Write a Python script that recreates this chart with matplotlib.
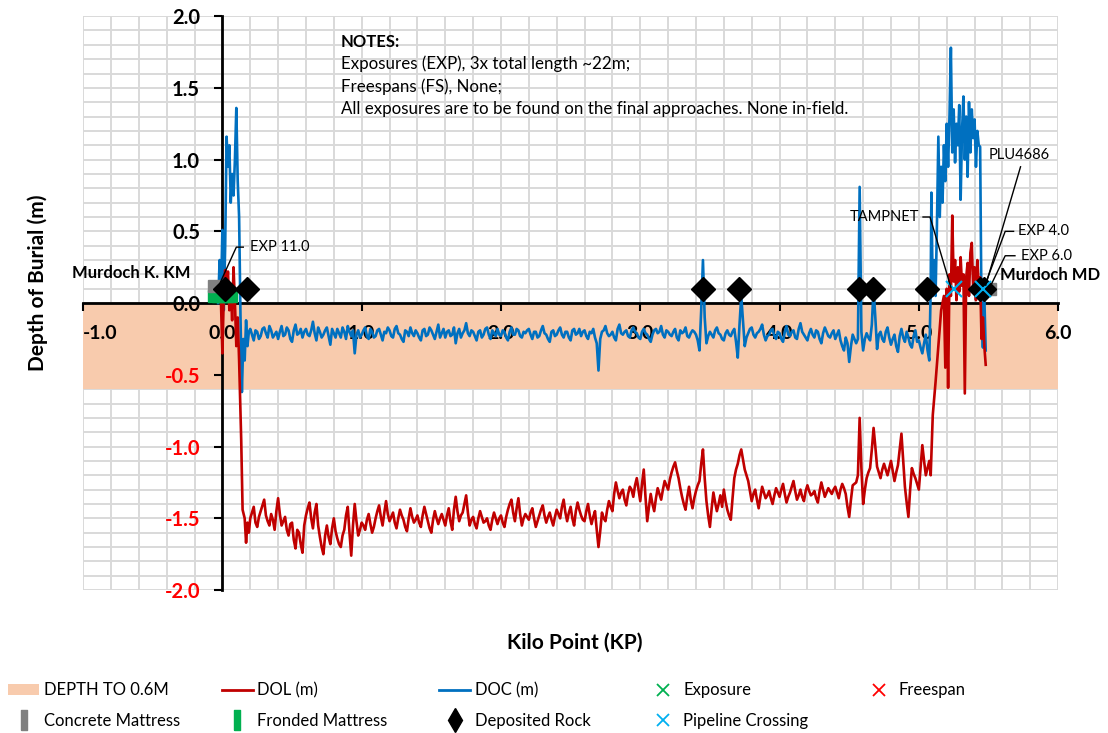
import numpy as np
import matplotlib
matplotlib.use('Agg')
import matplotlib.pyplot as plt
from matplotlib.ticker import MultipleLocator
from matplotlib.lines import Line2D
from matplotlib.patches import Patch

plt.rcParams['font.family'] = ['Lato', 'DejaVu Sans']

# DATA.

# DOC (m) - depth of cover, start of route (KP, value).
doc_start_kp = [-0.03, -0.02, -0.01, 0.0, 0.005, 0.01, 0.02, 0.03, 0.04, 0.05, 0.06, 0.07,
                0.08, 0.09, 0.10, 0.11, 0.12, 0.13, 0.14, 0.15, 0.16, 0.17, 0.18, 0.19]
doc_start = [0.0, 0.30, 0.05, 0.51, 0.10, -0.05, 0.40, 1.16, 0.95, 1.10, 0.70, 0.90,
             0.75, 1.00, 1.36, 0.85, 0.60, -0.10, -0.62, -0.25, -0.40, -0.12, -0.30, -0.20]

# DOC (m) main stretch, every 25 m from KP 0.200 to KP 5.075.
doc_main = [
    -0.18, -0.26, -0.20, -0.23, -0.17, -0.24, -0.19, -0.22,
    -0.25, -0.16, -0.22, -0.19, -0.27, -0.15, -0.21, -0.24,
    -0.18, -0.23, -0.13, -0.26, -0.20, -0.22, -0.17, -0.29,
    -0.21, -0.18, -0.24, -0.20, -0.16, -0.23, -0.35, -0.19,
    -0.22, -0.17, -0.25, -0.20, -0.23, -0.18, -0.26, -0.21,
    -0.19, -0.24, -0.16, -0.22, -0.27, -0.20, -0.17, -0.23,
    -0.21, -0.26, -0.18, -0.22, -0.19, -0.25, -0.15, -0.21,
    -0.24, -0.19, -0.22, -0.28, -0.18, -0.21, -0.14, -0.23,
    -0.20, -0.26, -0.19, -0.22, -0.17, -0.25, -0.21, -0.18,
    -0.23, -0.20, -0.26, -0.17, -0.22, -0.19, -0.24, -0.21,
    -0.18, -0.25, -0.20, -0.23, -0.16, -0.22, -0.27, -0.19,
    -0.22, -0.17, -0.24, -0.20, -0.26, -0.18, -0.21, -0.23,
    -0.19, -0.25, -0.21, -0.24, -0.47, -0.20, -0.16, -0.23,
    -0.20, -0.26, -0.15, -0.22, -0.19, -0.24, -0.17, -0.21,
    -0.25, -0.18, -0.22, -0.27, -0.19, -0.21, -0.16, -0.24,
    -0.20, -0.23, -0.18, -0.26, -0.21, -0.17, -0.24, -0.19,
    -0.22, -0.33, 0.30, -0.28, -0.20, -0.24, -0.17, -0.22,
    -0.26, -0.19, -0.23, -0.18, -0.38, 0.05, -0.30, -0.21,
    -0.17, -0.24, -0.20, -0.15, -0.26, -0.22, -0.18, -0.25,
    -0.21, -0.27, -0.16, -0.23, -0.19, -0.25, -0.14, -0.22,
    -0.26, -0.18, -0.24, -0.20, -0.28, -0.17, -0.23, -0.21,
    -0.25, -0.19, -0.30, -0.24, -0.41, -0.22, -0.28, 0.81,
    -0.33, -0.21, -0.26, 0.10, -0.32, -0.20, -0.27, -0.17,
    -0.29, -0.22, -0.34, -0.18, -0.27, -0.24, -0.31, -0.19,
    -0.26, -0.35, -0.22, -0.40]

# DOC (m) main stretch, readings half way between the ones above (KP 0.2125 to 5.0625).
doc_mid = [
    -0.22, -0.19, -0.25, -0.18, -0.21, -0.16, -0.24, -0.20,
    -0.20, -0.23, -0.17, -0.25, -0.19, -0.22, -0.18, -0.20,
    -0.22, -0.19, -0.21, -0.17, -0.24, -0.19, -0.23, -0.18,
    -0.24, -0.21, -0.17, -0.25, -0.20, -0.19, -0.22, -0.24,
    -0.19, -0.23, -0.18, -0.24, -0.19, -0.22, -0.20, -0.17,
    -0.23, -0.18, -0.21, -0.25, -0.19, -0.23, -0.21, -0.19,
    -0.24, -0.19, -0.23, -0.17, -0.22, -0.20, -0.24, -0.18,
    -0.20, -0.23, -0.17, -0.21, -0.24, -0.19, -0.21, -0.19,
    -0.23, -0.20, -0.24, -0.18, -0.22, -0.19, -0.23, -0.22,
    -0.19, -0.24, -0.20, -0.22, -0.18, -0.23, -0.20, -0.19,
    -0.22, -0.20, -0.24, -0.19, -0.21, -0.25, -0.20, -0.23,
    -0.19, -0.22, -0.20, -0.24, -0.19, -0.22, -0.18, -0.20,
    -0.23, -0.20, -0.18, -0.28, -0.25, -0.19, -0.21, -0.22,
    -0.24, -0.18, -0.21, -0.20, -0.23, -0.19, -0.20, -0.24,
    -0.20, -0.21, -0.25, -0.22, -0.18, -0.20, -0.22, -0.19,
    -0.22, -0.20, -0.24, -0.19, -0.20, -0.23, -0.21, -0.20,
    -0.26, -0.05, -0.10, -0.23, -0.22, -0.19, -0.21, -0.25,
    -0.21, -0.22, -0.20, -0.27, -0.15, -0.12, -0.24, -0.18,
    -0.22, -0.21, -0.18, -0.22, -0.23, -0.19, -0.23, -0.20,
    -0.25, -0.20, -0.22, -0.20, -0.24, -0.18, -0.20, -0.24,
    -0.21, -0.22, -0.19, -0.25, -0.21, -0.20, -0.24, -0.19,
    -0.22, -0.26, -0.33, -0.28, -0.30, -0.25, -0.25, -0.20,
    -0.25, -0.24, -0.15, -0.10, -0.22, -0.25, -0.20, -0.24,
    -0.25, -0.30, -0.23, -0.24, -0.20, -0.29, -0.23, -0.27,
    -0.31, -0.28, -0.33]

# DOC (m) end of route.
doc_end_kp = [5.085, 5.09, 5.10, 5.11, 5.12, 5.13, 5.14, 5.15, 5.16, 5.17, 5.18, 5.19,
              5.20, 5.21, 5.22, 5.23, 5.24, 5.25, 5.26, 5.27, 5.28, 5.29, 5.30, 5.31,
              5.32, 5.33, 5.34, 5.35, 5.36, 5.37, 5.38, 5.39, 5.40, 5.41, 5.42, 5.43,
              5.44, 5.45, 5.46, 5.47, 5.48]
doc_end = [0.10, 0.77, 0.05, 0.30, 0.05, 0.55, 1.16, 0.60, 0.95, 0.70, 1.10, 0.85,
           1.25, 0.95, 1.30, 1.78, 1.05, 1.35, 0.98, 1.25, 1.10, 1.38, 0.72, 1.20,
           1.44, 1.00, 1.30, 0.88, 1.40, 1.05, 1.35, 1.15, 1.28, 0.95, 1.20, 1.10,
           1.09, -0.10, -0.31, 0.05, -0.33]

# DOL (m) - depth of lowering, start of route.
dol_start_kp = [-0.01, 0.0, 0.01, 0.02, 0.03, 0.04, 0.05, 0.06, 0.07, 0.08, 0.09, 0.10,
                0.11, 0.12, 0.135, 0.145, 0.16, 0.17, 0.18, 0.19]
dol_start = [0.0, -0.35, 0.05, 0.23, 0.10, 0.22, -0.05, 0.10, -0.12, 0.25, 0.0, -0.30,
             -0.10, -0.40, -0.95, -1.44, -1.50, -1.67, -1.53, -1.60]

# DOL (m) main stretch, every 25 m from KP 0.200 to KP 5.075.
dol_main = [
    -1.50, -1.42, -1.56, -1.45, -1.37, -1.52, -1.47, -1.58,
    -1.36, -1.55, -1.49, -1.62, -1.53, -1.71, -1.60, -1.74,
    -1.48, -1.39, -1.57, -1.40, -1.63, -1.75, -1.55, -1.68,
    -1.50, -1.64, -1.70, -1.58, -1.42, -1.76, -1.40, -1.62,
    -1.53, -1.58, -1.47, -1.60, -1.50, -1.41, -1.55, -1.38,
    -1.52, -1.46, -1.57, -1.44, -1.51, -1.59, -1.43, -1.53,
    -1.48, -1.56, -1.42, -1.52, -1.60, -1.45, -1.54, -1.47,
    -1.55, -1.43, -1.58, -1.35, -1.52, -1.46, -1.34, -1.55,
    -1.49, -1.57, -1.45, -1.53, -1.50, -1.58, -1.46, -1.54,
    -1.48, -1.56, -1.44, -1.37, -1.52, -1.36, -1.55, -1.47,
    -1.51, -1.43, -1.56, -1.48, -1.41, -1.53, -1.46, -1.55,
    -1.44, -1.50, -1.37, -1.52, -1.42, -1.55, -1.39, -1.48,
    -1.52, -1.40, -1.54, -1.45, -1.70, -1.46, -1.52, -1.38,
    -1.45, -1.25, -1.36, -1.30, -1.41, -1.28, -1.35, -1.22,
    -1.38, -1.16, -1.52, -1.33, -1.45, -1.29, -1.37, -1.24,
    -1.30, -1.18, -1.11, -1.22, -1.35, -1.44, -1.28, -1.43,
    -1.31, -1.24, -1.02, -1.38, -1.56, -1.32, -1.45, -1.34,
    -1.30, -1.44, -1.51, -1.22, -1.12, -1.02, -1.16, -1.24,
    -1.38, -1.30, -1.43, -1.28, -1.36, -1.31, -1.40, -1.29,
    -1.35, -1.26, -1.39, -1.32, -1.24, -1.37, -1.30, -1.38,
    -1.27, -1.34, -1.31, -1.39, -1.25, -1.35, -1.29, -1.33,
    -1.28, -1.36, -1.26, -1.33, -1.49, -1.27, -1.25, -0.80,
    -1.40, -1.22, -1.15, -0.87, -1.14, -1.22, -1.12, -1.20,
    -1.10, -1.24, -1.13, -0.91, -1.28, -1.49, -1.15, -1.22,
    -1.30, -0.99, -1.20, -1.10]

# DOL (m) main stretch, readings half way between the ones above.
dol_mid = [
    -1.46, -1.53, -1.49, -1.41, -1.48, -1.55, -1.51, -1.45,
    -1.47, -1.52, -1.58, -1.54, -1.65, -1.58, -1.68, -1.55,
    -1.43, -1.50, -1.46, -1.55, -1.70, -1.62, -1.63, -1.57,
    -1.59, -1.68, -1.62, -1.48, -1.60, -1.55, -1.52, -1.58,
    -1.55, -1.51, -1.54, -1.56, -1.45, -1.49, -1.46, -1.47,
    -1.49, -1.53, -1.50, -1.48, -1.56, -1.50, -1.49, -1.51,
    -1.53, -1.48, -1.47, -1.57, -1.51, -1.50, -1.50, -1.51,
    -1.48, -1.52, -1.44, -1.45, -1.48, -1.40, -1.46, -1.51,
    -1.54, -1.50, -1.49, -1.52, -1.55, -1.51, -1.50, -1.50,
    -1.53, -1.49, -1.40, -1.46, -1.43, -1.47, -1.50, -1.49,
    -1.46, -1.50, -1.52, -1.44, -1.48, -1.49, -1.51, -1.49,
    -1.47, -1.42, -1.46, -1.46, -1.50, -1.45, -1.44, -1.51,
    -1.45, -1.48, -1.49, -1.58, -1.59, -1.50, -1.44, -1.42,
    -1.33, -1.31, -1.32, -1.37, -1.33, -1.30, -1.27, -1.30,
    -1.26, -1.35, -1.42, -1.40, -1.36, -1.33, -1.30, -1.27,
    -1.23, -1.14, -1.17, -1.29, -1.40, -1.35, -1.37, -1.36,
    -1.27, -1.12, -1.22, -1.48, -1.43, -1.39, -1.40, -1.42,
    -1.38, -1.48, -1.36, -1.16, -1.06, -1.09, -1.20, -1.31,
    -1.33, -1.37, -1.35, -1.32, -1.34, -1.36, -1.34, -1.32,
    -1.30, -1.33, -1.35, -1.28, -1.31, -1.34, -1.35, -1.31,
    -1.31, -1.33, -1.36, -1.31, -1.30, -1.32, -1.31, -1.30,
    -1.32, -1.30, -1.29, -1.42, -1.37, -1.26, -1.20, -1.15,
    -1.30, -1.18, -1.02, -1.00, -1.18, -1.16, -1.16, -1.15,
    -1.17, -1.18, -1.02, -1.10, -1.39, -1.30, -1.19, -1.26,
    -1.14, -1.10, -1.15]

# DOL (m) end of route.
dol_end_kp = [5.085, 5.10, 5.12, 5.14, 5.16, 5.18, 5.19, 5.20, 5.21, 5.22, 5.23, 5.24,
              5.25, 5.26, 5.27, 5.28, 5.29, 5.30, 5.31, 5.32, 5.33, 5.34, 5.35, 5.36,
              5.37, 5.38, 5.39, 5.40, 5.41, 5.42, 5.43, 5.44, 5.45, 5.46, 5.47, 5.48]
dol_end = [-1.20, -0.78, -0.55, -0.30, -0.05, 0.05, -0.45, 0.10, -0.59, 0.20, 0.05, 0.61,
           0.15, 0.30, 0.02, 0.25, 0.08, 0.32, 0.12, 0.20, -0.63, 0.18, 0.28, 0.05,
           0.35, 0.42, 0.10, 0.25, 0.02, 0.30, 0.12, 0.18, -0.25, -0.10, -0.30, -0.43]

# Event markers (KP, depth).
rock_kp = [0.02, 0.18, 3.45, 3.71, 4.57, 4.67, 5.06, 5.44, 5.47]
rock_y = [0.1, 0.1, 0.1, 0.1, 0.1, 0.1, 0.1, 0.1, 0.1]
crossing_kp = [5.25, 5.46]
crossing_y = [0.1, 0.1]
concrete_kp = [-0.06, 5.51]
concrete_y = [0.12, 0.10]
fronded_kp = [-0.06, -0.03, 0.0, 0.03, 0.06]
fronded_y = [0.05, 0.05, 0.05, 0.05, 0.05]


# Interleave the 25 m readings with the half-way readings.
def merge(main_vals, mid_vals):
    main_kp = np.round(np.arange(0.2, 5.076, 0.025), 4)
    kp = np.empty(len(main_vals) + len(mid_vals))
    val = np.empty_like(kp)
    kp[0::2] = main_kp
    kp[1::2] = main_kp[:-1] + 0.0125
    val[0::2] = main_vals
    val[1::2] = mid_vals
    return kp, val


doc_main_kp, doc_main_all = merge(doc_main, doc_mid)
dol_main_kp, dol_main_all = merge(dol_main, dol_mid)
doc_kp = np.concatenate([doc_start_kp, doc_main_kp, doc_end_kp])
doc = np.concatenate([doc_start, doc_main_all, doc_end])
dol_kp = np.concatenate([dol_start_kp, dol_main_kp, dol_end_kp])
dol = np.concatenate([dol_start, dol_main_all, dol_end])

# PLOT.
fig = plt.figure(figsize=(11.08, 7.33), dpi=100)
ax = fig.add_axes([0.075, 0.195, 0.88, 0.783])

ax.set_xlim(-1, 6)
ax.set_ylim(-2, 2)

# Grid, drawn below the 0.6 m band.
for gx in np.arange(-1.0, 6.01, 0.2):
    ax.axvline(gx, color='#d9d9d9', linewidth=1.4, zorder=0.5)
for gy in np.arange(-2.0, 2.01, 0.1):
    ax.axhline(gy, color='#d9d9d9', linewidth=1.4, zorder=0.5)

# Depth to 0.6 m band.
ax.axhspan(-0.6, 0, color='#F8CBAD', zorder=1, linewidth=0)

# Lines.
ax.plot(doc_kp, doc, color='#0070C0', linewidth=1.9, zorder=3)
ax.plot(dol_kp, dol, color='#C00000', linewidth=1.9, zorder=4)

# Markers.
ax.plot(fronded_kp, fronded_y, 's', color='#00B050', markersize=9, zorder=5)
ax.plot(concrete_kp, concrete_y, 's', color='#808080', markersize=8, zorder=5)
ax.plot(rock_kp, rock_y, 'D', color='black', markersize=12, zorder=6)
ax.plot(crossing_kp, crossing_y, 'x', color='#00B0F0', markersize=12, markeredgewidth=1.5, zorder=7)

# Spines through the origin.
for side in ['top', 'right']:
    ax.spines[side].set_visible(False)
ax.spines['left'].set_position(('data', 0))
ax.spines['bottom'].set_position(('data', 0))
ax.spines['left'].set_linewidth(2)
ax.spines['bottom'].set_linewidth(2)

ax.set_xticks([-1, 0, 1, 2, 3, 4, 5, 6])
ax.set_xticklabels(['-1.0', '0.0', '1.0', '2.0', '3.0', '4.0', '5.0', '6.0'])
ax.set_yticks([-2, -1.5, -1, -0.5, 0, 0.5, 1, 1.5, 2])
ax.set_yticklabels(['-2.0', '-1.5', '-1.0', '-0.5', '0.0', '0.5', '1.0', '1.5', '2.0'])
ax.xaxis.set_minor_locator(MultipleLocator(0.2))
ax.tick_params(which='minor', length=0)
ax.tick_params(axis='x', which='major', direction='out', length=6, width=1.5, pad=10,
               labelsize=14)
ax.tick_params(axis='y', which='major', direction='out', length=6, width=1.5, pad=10,
               labelsize=14.5)
for lab in ax.get_xticklabels() + ax.get_yticklabels():
    lab.set_fontweight('bold')
for lab, v in zip(ax.get_yticklabels(), [-2, -1.5, -1, -0.5, 0, 0.5, 1, 1.5, 2]):
    if v < 0:
        lab.set_color('red')
ax.get_xticklabels()[0].set_horizontalalignment('left')

# Axis titles.
fig.text(0.519, 0.123, 'Kilo Point (KP)', fontsize=15, fontweight='bold', ha='center', va='center')
fig.text(0.034, 0.614, 'Depth of Burial (m)', fontsize=15, fontweight='bold', rotation=90,
         ha='center', va='center')

# Notes.
ax.text(0.85, 1.82, 'NOTES:', fontsize=12, fontweight='bold', va='center')
ax.text(0.85, 1.665, 'Exposures (EXP), 3x total length ~22m;', fontsize=12.2, va='center')
ax.text(0.85, 1.51, 'Freespans (FS), None;', fontsize=12.2, va='center')
ax.text(0.85, 1.355, 'All exposures are to be found on the final approaches. None in-field.',
        fontsize=12.2, va='center')

# Labels with leader lines.
lead = dict(color='black', linewidth=1, clip_on=False, zorder=8)
ax.text(0.195, 0.39, 'EXP 11.0', fontsize=10.5, va='center', ha='left')
ax.plot([0.15, 0.10, -0.014], [0.39, 0.39, 0.146], **lead)
ax.text(5.0, 0.60, 'TAMPNET', fontsize=10.5, va='center', ha='right')
ax.plot([5.03, 5.08, 5.23], [0.60, 0.60, 0.11], **lead)
ax.text(5.50, 1.03, 'PLU4686', fontsize=10.5, va='center', ha='left')
ax.plot([5.73, 5.48], [0.95, 0.125], **lead)
ax.text(5.71, 0.50, 'EXP 4.0', fontsize=10.5, va='center', ha='left')
ax.plot([5.68, 5.62, 5.48], [0.50, 0.50, 0.14], **lead)
ax.text(5.73, 0.33, 'EXP 6.0', fontsize=10.5, va='center', ha='left')
ax.plot([5.69, 5.62, 5.51], [0.33, 0.33, 0.11], **lead)
ax.text(5.585, 0.195, 'Murdoch MD', fontsize=12, fontweight='bold', va='center', ha='left',
        clip_on=False)
ax.text(-0.23, 0.21, 'Murdoch K. KM', fontsize=12, fontweight='bold', va='center', ha='right')

# Legend, one column at a time.
rect = [(-0.35, -1), (0.35, -1), (0.35, 1), (-0.35, 1), (-0.35, -1)]
columns = [
    [Patch(facecolor='#F8CBAD', edgecolor='none', label='DEPTH TO 0.6M'),
     Line2D([], [], linestyle='none', marker=rect, color='#808080', markersize=14,
            label='Concrete Mattress')],
    [Line2D([], [], color='#C00000', linewidth=2, label='DOL (m)'),
     Line2D([], [], linestyle='none', marker=rect, color='#00B050', markersize=14,
            label='Fronded Mattress')],
    [Line2D([], [], color='#0070C0', linewidth=2, label='DOC (m)'),
     Line2D([], [], linestyle='none', marker='d', color='black', markersize=12,
            label='Deposited Rock')],
    [Line2D([], [], linestyle='none', marker='x', color='#00B050', markersize=9,
            markeredgewidth=1.3, label='Exposure'),
     Line2D([], [], linestyle='none', marker='x', color='#00B0F0', markersize=9,
            markeredgewidth=1.3, label='Pipeline Crossing')],
    [Line2D([], [], linestyle='none', marker='x', color='#FF0000', markersize=9,
            markeredgewidth=1.3, label='Freespan')],
]
col_x = [0.001, 0.194, 0.390, 0.5785, 0.7726]
for cx, handles in zip(col_x, columns):
    fig.legend(handles=handles, loc='upper left', bbox_to_anchor=(cx, 0.078),
               frameon=False, fontsize=12, handlelength=1.9, handletextpad=0.25,
               labelspacing=0.85, borderaxespad=0, borderpad=0.4)

fig.savefig('out.png', dpi=100)
